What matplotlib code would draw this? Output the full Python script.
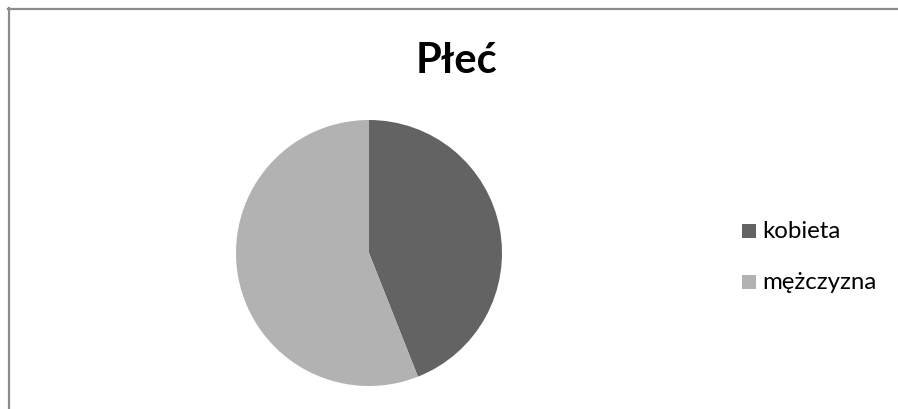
import matplotlib.pyplot as plt
from matplotlib.patches import Rectangle
from matplotlib.lines import Line2D

# dane
labels = ["kobieta", "mężczyzna"]
values = [44, 56]
colors = ["#636363", "#b2b2b2"]
title = "Płeć"

W, H = 898, 410
fig = plt.figure(figsize=(W / 100, H / 100), dpi=100)
fig.patch.set_facecolor("white")

# ramka (góra i lewa krawędź)
fig.add_artist(Line2D([8.5 / W, 8.5 / W], [0, 1 - 9 / H], transform=fig.transFigure,
                      color="#8c8c8c", lw=1.6))
fig.add_artist(Line2D([8 / W, 1], [1 - 10 / H, 1 - 10 / H], transform=fig.transFigure,
                      color="#8c8c8c", lw=1.6))

# wykres kołowy
cx, cy, r = 369, 254, 133
ax = fig.add_axes([(cx - r) / W, (H - cy - r) / H, 2 * r / W, 2 * r / H])
ax.pie(values, colors=colors, startangle=90, counterclock=False,
       wedgeprops=dict(linewidth=0))
ax.set_xlim(-1, 1)
ax.set_ylim(-1, 1)
ax.axis("off")

fig.text(457 / W, 1 - 61 / H, title, ha="center", va="center",
         fontsize=30, fontweight="bold", family=["Lato", "DejaVu Sans"])

# legenda
for i, (lab, col) in enumerate(zip(labels, colors)):
    y = 232 + i * 51
    fig.add_artist(Rectangle((742 / W, 1 - (y + 7) / H), 14 / W, 14 / H,
                             transform=fig.transFigure, color=col, lw=0))
    fig.text(762 / W, 1 - y / H, lab, ha="left", va="center",
             fontsize=17.3, family=["Lato", "DejaVu Sans"])

fig.savefig("out.png", dpi=100)
